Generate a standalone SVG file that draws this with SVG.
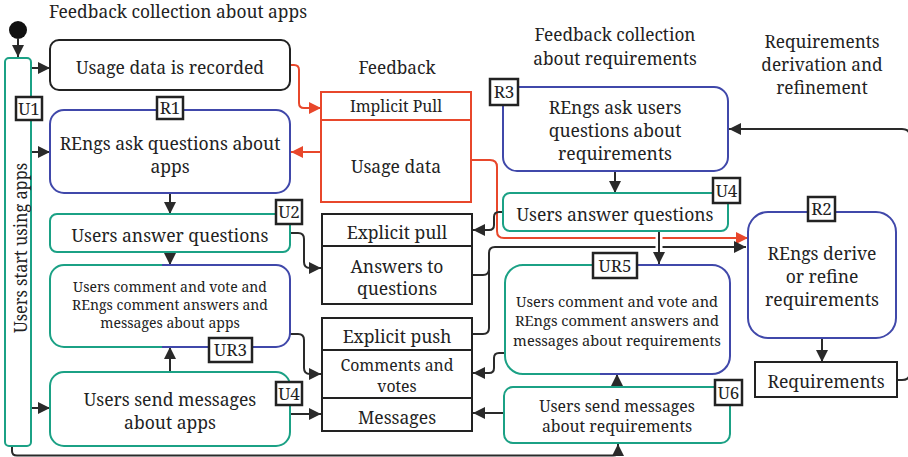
<svg xmlns="http://www.w3.org/2000/svg" width="908" height="457" viewBox="0 0 908 457">
<style>
text{font-family:"Noto Serif","DejaVu Serif",serif;fill:#222;text-anchor:middle}
.t20{font-size:17.5px}
.ti{font-size:17.2px}
.t17{font-size:14px}
.t5{font-size:14.6px}
.t16{font-size:15.8px}
.lt{font-size:17px}
.green{fill:#fff;stroke:#1ba185;stroke-width:2}
.blue{fill:#fff;stroke:#4048aa;stroke-width:2}
.blk{fill:#fff;stroke:#222;stroke-width:2}
.red{fill:#fff;stroke:#e8472b;stroke-width:2}
.lbl{fill:#fff;stroke:#222;stroke-width:2.5}
.c{fill:none;stroke:#2a2a2a;stroke-width:2}
.cr{fill:none;stroke:#e8472b;stroke-width:2}
</style>
<defs>
<marker id="ab" viewBox="0 0 12 12" refX="12" refY="6" markerWidth="12" markerHeight="12" markerUnits="userSpaceOnUse" orient="auto"><path d="M0,0 L12,6 L0,12 z" fill="#2a2a2a"/></marker>
<marker id="ar" viewBox="0 0 12 12" refX="12" refY="6" markerWidth="12" markerHeight="12" markerUnits="userSpaceOnUse" orient="auto"><path d="M0,0 L12,6 L0,12 z" fill="#e8472b"/></marker>
<clipPath id="ur3l"><rect x="40" y="255" width="122" height="100"/></clipPath>
<clipPath id="ur3r"><rect x="162" y="255" width="140" height="100"/></clipPath>
<clipPath id="ur5l"><rect x="495" y="255" width="105" height="130"/></clipPath>
<clipPath id="ur5r"><rect x="600" y="255" width="140" height="130"/></clipPath>
</defs>

<text class="ti" x="178" y="18" textLength="258" lengthAdjust="spacingAndGlyphs">Feedback collection about apps</text>
<text class="ti" x="397" y="74">Feedback</text>
<text class="ti" x="615" y="41">Feedback collection</text>
<text class="ti" x="615" y="65">about requirements</text>
<text class="ti" x="822" y="48">Requirements</text>
<text class="ti" x="822" y="71">derivation and</text>
<text class="ti" x="822" y="94">refinement</text>

<g id="connectors">
<path class="c" d="M18 39 V57" marker-end="url(#ab)"/>
<path class="c" d="M32 68 H50" marker-end="url(#ab)"/>
<path class="c" d="M32 152 H50" marker-end="url(#ab)"/>
<path class="c" d="M32 408 H50" marker-end="url(#ab)"/>
<path class="cr" d="M290 65 H294 Q299 65 299 70 V103 Q299 108 304 108 H321" marker-end="url(#ar)"/>
<path class="cr" d="M321 152 H291" marker-end="url(#ar)"/>
<path class="c" d="M170 193 V214" marker-end="url(#ab)"/>
<path class="c" d="M170 252 V265" marker-end="url(#ab)"/>
<path class="c" d="M170 372 V347" marker-end="url(#ab)"/>
<path class="c" d="M290 233 H298 Q304 233 304 239 V262 Q304 268 310 268 H321" marker-end="url(#ab)"/>
<path class="c" d="M290 334 H298 Q304 334 304 340 V368 Q304 374 310 374 H321" marker-end="url(#ab)"/>
<path class="c" d="M290 414 H321" marker-end="url(#ab)"/>
<path class="cr" d="M471 160 H490 Q497 160 497 167 V231 Q497 238 504 238 H748" marker-end="url(#ar)"/>
<path class="c" d="M472 275 H483 Q489 275 489 269 V253 Q489 247 495 247 H746" marker-end="url(#ab)"/>
<path class="c" d="M472 334 H483 Q489 334 489 328 V270"/>
<path class="c" d="M503 212 H499 Q494 212 494 217 V225 Q494 230 489 230 H473" marker-end="url(#ab)"/>
<path class="c" d="M504 353 H499 Q494 353 494 358 V368 Q494 373 489 373 H473" marker-end="url(#ab)"/>
<path class="c" d="M504 413 H473" marker-end="url(#ab)"/>
<path class="c" d="M615 171 V193" marker-end="url(#ab)"/>
<path d="M659 234 V252" stroke="#fff" stroke-width="7" fill="none"/>
<path class="c" d="M659 231 V264" marker-end="url(#ab)"/>
<path class="c" d="M617 387 V374" marker-end="url(#ab)"/>
<path class="c" d="M822 338 V362" marker-end="url(#ab)"/>
<path class="c" d="M897 380 H902 Q910 380 910 372 V137 Q910 129 902 129 H729" marker-end="url(#ab)"/>
<path class="c" d="M12 446 V451 Q12 455.5 17 455.5 H613 Q618 455.5 618 451 V444" marker-end="url(#ab)" stroke-width="1.5"/>
</g>

<g id="start"><circle cx="18" cy="30" r="9" fill="#111"/></g>

<g id="U1">
<rect class="green" x="5" y="58" width="26" height="388" rx="4"/>
<text class="ti" transform="translate(26.5,248) rotate(-90)" textLength="170" lengthAdjust="spacingAndGlyphs">Users start using apps</text>
<rect class="lbl" x="16" y="97" width="26" height="23"/>
<text class="lt" x="29" y="114.5">U1</text>
</g>

<g id="usage-recorded">
<rect class="blk" x="50" y="40" width="240" height="50" rx="9"/>
<text class="t20" x="170" y="74">Usage data is recorded</text>
</g>

<g id="R1">
<rect class="blue" x="50" y="110" width="240" height="83" rx="14"/>
<text class="t20" x="170" y="150">REngs ask questions about</text>
<text class="t20" x="170" y="173">apps</text>
<rect class="lbl" x="157" y="97" width="26" height="22"/>
<text class="lt" x="170" y="114">R1</text>
</g>

<g id="U2">
<rect class="green" x="50" y="214" width="240" height="38" rx="7"/>
<text class="t20" x="170" y="242">Users answer questions</text>
<rect class="lbl" x="276" y="200" width="26" height="24"/>
<text class="lt" x="289" y="218">U2</text>
</g>

<g id="UR3">
<rect class="green" x="50" y="265" width="240" height="82" rx="14" clip-path="url(#ur3l)"/>
<rect class="blue" x="50" y="265" width="240" height="82" rx="14" clip-path="url(#ur3r)"/>
<text class="t17" x="170" y="292">Users comment and vote and</text>
<text class="t17" x="170" y="310">REngs comment answers and</text>
<text class="t17" x="170" y="328">messages about apps</text>
<rect class="lbl" x="209" y="338" width="43" height="24"/>
<text class="lt" x="230.5" y="356">UR3</text>
</g>

<g id="U4-apps">
<rect class="green" x="50" y="372" width="240" height="74" rx="14"/>
<text class="t20" x="170" y="406">Users send messages</text>
<text class="t20" x="170" y="429">about apps</text>
<rect class="lbl" x="276" y="382" width="26" height="23"/>
<text class="lt" x="289" y="399.5">U4</text>
</g>

<g id="implicit-pull">
<rect class="red" x="321" y="92" width="150" height="110"/>
<line x1="321" y1="120" x2="471" y2="120" stroke="#e8472b" stroke-width="2"/>
<text class="t16" x="396" y="111.5">Implicit Pull</text>
<text class="t20" x="396" y="173">Usage data</text>
</g>

<g id="explicit-pull">
<rect class="blk" x="322" y="214" width="150" height="90"/>
<line x1="322" y1="246" x2="472" y2="246" stroke="#222" stroke-width="2"/>
<text class="t20" x="397" y="239">Explicit pull</text>
<text class="t20" x="397" y="273">Answers to</text>
<text class="t20" x="397" y="295">questions</text>
</g>

<g id="explicit-push">
<rect class="blk" x="322" y="318" width="150" height="113"/>
<line x1="322" y1="350" x2="472" y2="350" stroke="#222" stroke-width="2"/>
<line x1="322" y1="398" x2="472" y2="398" stroke="#222" stroke-width="2"/>
<text class="t20" x="397" y="343">Explicit push</text>
<text class="t16" x="397" y="371">Comments and</text>
<text class="t16" x="397" y="392">votes</text>
<text class="t20" x="397" y="424">Messages</text>
</g>

<g id="R3">
<rect class="blue" x="503" y="87" width="225" height="84" rx="14"/>
<text class="t20" x="615" y="114">REngs ask users</text>
<text class="t20" x="615" y="137">questions about</text>
<text class="t20" x="615" y="160">requirements</text>
<rect class="lbl" x="490" y="79" width="28" height="26"/>
<text class="lt" x="504" y="98">R3</text>
</g>

<g id="U4-req">
<rect class="green" x="503" y="193" width="225" height="38" rx="7"/>
<text class="t20" x="615" y="221">Users answer questions</text>
<rect class="lbl" x="713" y="178" width="27" height="25"/>
<text class="lt" x="726.5" y="196.5">U4</text>
</g>

<g id="UR5">
<rect class="green" x="505" y="265" width="225" height="109" rx="18" clip-path="url(#ur5l)"/>
<rect class="blue" x="505" y="265" width="225" height="109" rx="18" clip-path="url(#ur5r)"/>
<text class="t5" x="617" y="307">Users comment and vote and</text>
<text class="t5" x="617" y="326">REngs comment answers and</text>
<text class="t5" x="617" y="346">messages about requirements</text>
<rect class="lbl" x="593" y="253" width="44" height="25"/>
<text class="lt" x="615" y="271.5">UR5</text>
</g>

<g id="U6">
<rect class="green" x="504" y="387" width="226" height="56" rx="9"/>
<text class="t16" x="617" y="412">Users send messages</text>
<text class="t16" x="617" y="432">about requirements</text>
<rect class="lbl" x="715" y="380" width="27" height="25"/>
<text class="lt" x="728.5" y="398.5">U6</text>
</g>

<g id="R2">
<rect class="blue" x="748" y="212" width="148" height="126" rx="20"/>
<text class="t20" x="822" y="260">REngs derive</text>
<text class="t20" x="822" y="283">or refine</text>
<text class="t20" x="822" y="306">requirements</text>
<rect class="lbl" x="808" y="197" width="27" height="24"/>
<text class="lt" x="821.5" y="215">R2</text>
</g>

<g id="requirements">
<rect class="blk" x="755" y="362" width="142" height="35"/>
<text class="t20" x="826" y="388">Requirements</text>
</g>
</svg>
